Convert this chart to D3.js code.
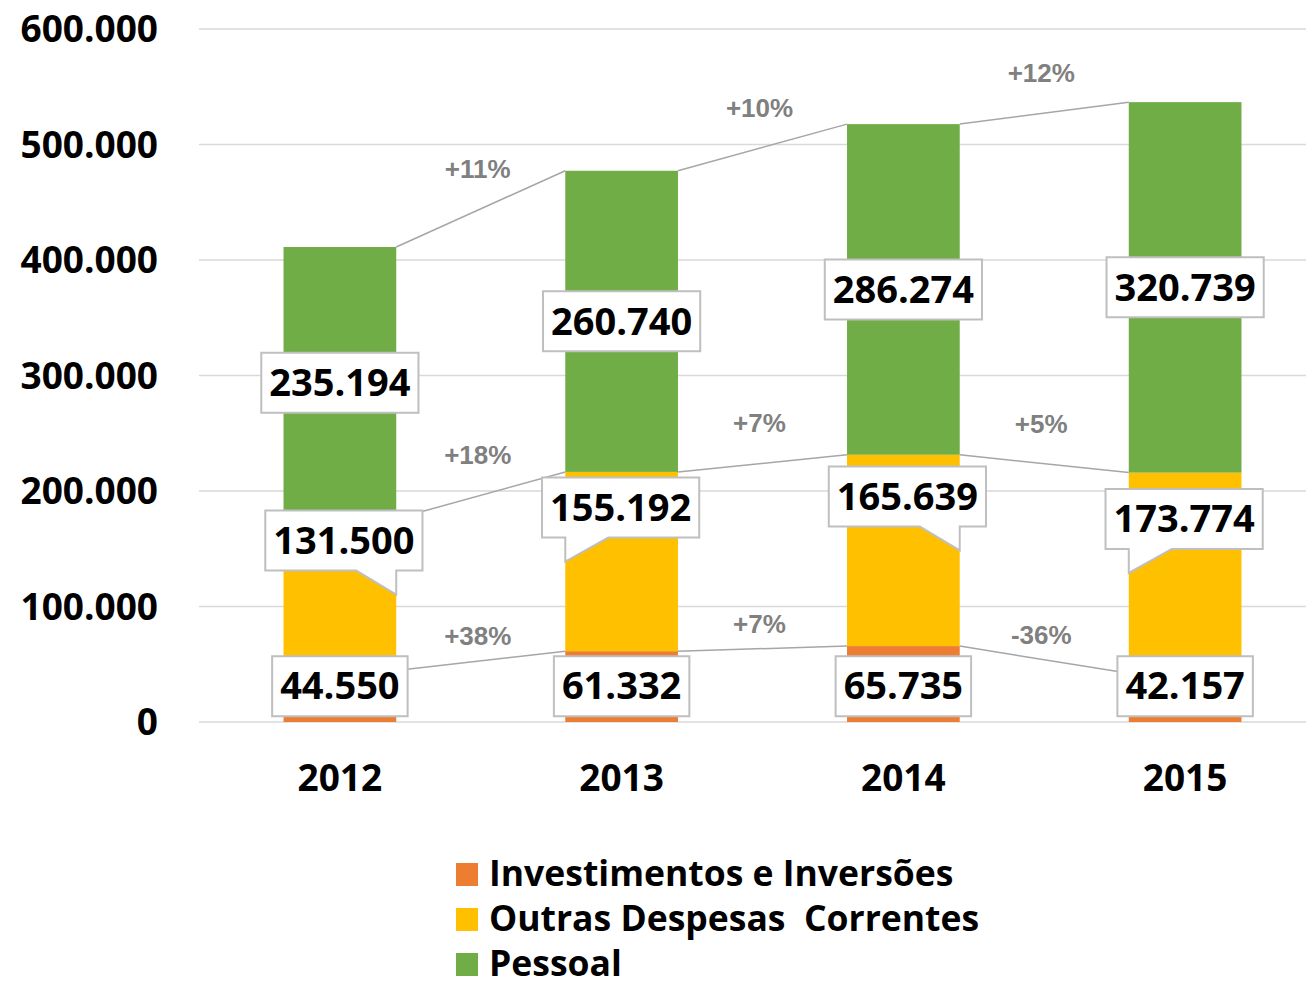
<!DOCTYPE html>
<html><head><meta charset="utf-8">
<script src="https://cdn.jsdelivr.net/npm/d3@7"></script>
<style>
html,body{margin:0;padding:0;background:#fff;}
svg{display:block;}
text{white-space:pre;}
</style></head>
<body>
<svg id="chart" width="1306" height="983"></svg>
<script>
const years = ["2012", "2013", "2014", "2015"];
const investimentos = [44550, 61332, 65735, 42157];
const outras = [131500, 155192, 165639, 173774];
const pessoal = [235194, 260740, 286274, 320739];
const seriesNames = ["Investimentos e Inversões", "Outras Despesas  Correntes", "Pessoal"];
const seriesColors = ["#ED7D31", "#FFC000", "#70AD47"];
const yTicks = [0, 100000, 200000, 300000, 400000, 500000, 600000];

const loc = d3.formatLocale({decimal: ",", thousands: ".", grouping: [3], currency: ["R$", ""], minus: "-"});
const fmt = loc.format(",d");
const pct = loc.format("+.0%");

const svg = d3.select("#chart");
const FONT = "'Open Sans', sans-serif";

const x = d3.scaleBand().domain(years).range([199, 1326]).paddingInner(0.6).paddingOuter(0.3);
const y = d3.scaleLinear().domain([0, 600000]).range([722, 29]);

const table = years.map((yr, i) => ({year: yr, inv: investimentos[i], out: outras[i], pes: pessoal[i]}));
const stack = d3.stack().keys(["inv", "out", "pes"])(table);

// gridlines
svg.append("g").selectAll("line").data(yTicks).join("line")
  .attr("x1", 199).attr("x2", 1306)
  .attr("y1", d => y(d)).attr("y2", d => y(d))
  .attr("stroke", "#d9d9d9").attr("stroke-width", 1.5);

// y axis labels
const yAxis = d3.axisLeft(y).tickValues(yTicks).tickFormat(fmt).tickSize(0).tickPadding(0);
const ya = svg.append("g").attr("transform", "translate(158,0)").call(yAxis);
ya.select(".domain").remove();
ya.selectAll("text").attr("font-family", FONT).attr("font-weight", 700).attr("font-size", 37).attr("fill", "#000").attr("dy", "0.35em");

// x axis labels
const xAxis = d3.axisBottom(x).tickSize(0).tickPadding(0);
const xa = svg.append("g").attr("transform", "translate(0,778)").call(xAxis);
xa.select(".domain").remove();
xa.selectAll("text").attr("font-family", FONT).attr("font-weight", 700).attr("font-size", 37).attr("fill", "#000").attr("dy", "0.35em");

// bars
stack.forEach((s, k) => {
  svg.append("g").selectAll("rect").data(s).join("rect")
    .attr("x", d => x(d.data.year)).attr("width", x.bandwidth())
    .attr("y", d => y(d[1])).attr("height", d => y(d[0]) - y(d[1]))
    .attr("fill", seriesColors[k]);
});

// connector lines + percent labels
const pctOffsets = [25, 40, 40];
const lineG = svg.append("g");
const pctG = svg.append("g");
stack.forEach((s, k) => {
  for (let i = 0; i < s.length - 1; i++) {
    const x1 = x(years[i]) + x.bandwidth(), y1 = y(s[i][1]);
    const x2 = x(years[i + 1]), y2 = y(s[i + 1][1]);
    lineG.append("line").attr("x1", x1).attr("y1", y1).attr("x2", x2).attr("y2", y2)
      .attr("stroke", "#a6a6a6").attr("stroke-width", 1.5);
    const v0 = s[i][1] - s[i][0], v1 = s[i + 1][1] - s[i + 1][0];
    pctG.append("text").attr("x", (x1 + x2) / 2 - 3).attr("y", (y1 + y2) / 2 - pctOffsets[k])
      .attr("dy", "0.35em").attr("text-anchor", "middle")
      .attr("font-family", "'Liberation Sans', Arial, sans-serif").attr("font-weight", 700)
      .attr("font-size", 26).attr("fill", "#808080")
      .text(pct(v1 / v0 - 1));
  }
});

// data labels
const labG = svg.append("g");
function labelBox(cx, cy, txt, pointer) {
  const g = labG.append("g");
  const path = g.append("path");
  const t = g.append("text").attr("x", cx).attr("y", cy).attr("dy", "0.35em").attr("text-anchor", "middle")
    .attr("font-family", FONT).attr("font-weight", 700).attr("font-size", 38).attr("fill", "#000").text(txt);
  const w = t.node().getComputedTextLength() + 16, h = 60;
  const l = cx - w / 2, r = cx + w / 2, tp = cy - h / 2, b = cy + h / 2;
  let dstr;
  if (!pointer) {
    dstr = `M${l},${tp}H${r}V${b}H${l}Z`;
  } else if (pointer.side === "right") {
    dstr = `M${l},${tp}H${r}V${b}H${pointer.x}V${pointer.y}L${pointer.x - 40},${b}H${l}Z`;
  } else {
    dstr = `M${l},${tp}H${r}V${b}H${pointer.x + 43}L${pointer.x},${pointer.y}V${b}H${l}Z`;
  }
  path.attr("d", dstr).attr("fill", "#fff").attr("stroke", "#bfbfbf").attr("stroke-width", 2);
}

stack[0].forEach((d, i) => {
  labelBox(x(years[i]) + x.bandwidth() / 2, y(31000), fmt(d[1] - d[0]));
});
stack[1].forEach((d, i) => {
  const side = i % 2 === 0 ? "right" : "left";
  const tipY = y((d[0] + d[1]) / 2);
  const tipX = side === "right" ? x(years[i]) + x.bandwidth() : x(years[i]);
  const cx = x(years[i]) + x.bandwidth() / 2 + (side === "right" ? 4 : -1);
  const cy = tipY - 24 - 30;
  labelBox(cx, cy, fmt(d[1] - d[0]), {side, x: tipX, y: tipY});
});
stack[2].forEach((d, i) => {
  labelBox(x(years[i]) + x.bandwidth() / 2, y((d[0] + d[1]) / 2), fmt(d[1] - d[0]));
});

// legend
const leg = svg.append("g");
seriesNames.forEach((n, k) => {
  const yy = 874 + k * 45;
  leg.append("rect").attr("x", 456).attr("y", yy - 11).attr("width", 22).attr("height", 23).attr("fill", seriesColors[k]);
  leg.append("text").attr("x", 489).attr("y", yy).attr("dy", "0.35em")
    .attr("font-family", FONT).attr("font-weight", 700).attr("font-size", 35.5).attr("fill", "#000").text(n);
});
</script>
</body></html>
